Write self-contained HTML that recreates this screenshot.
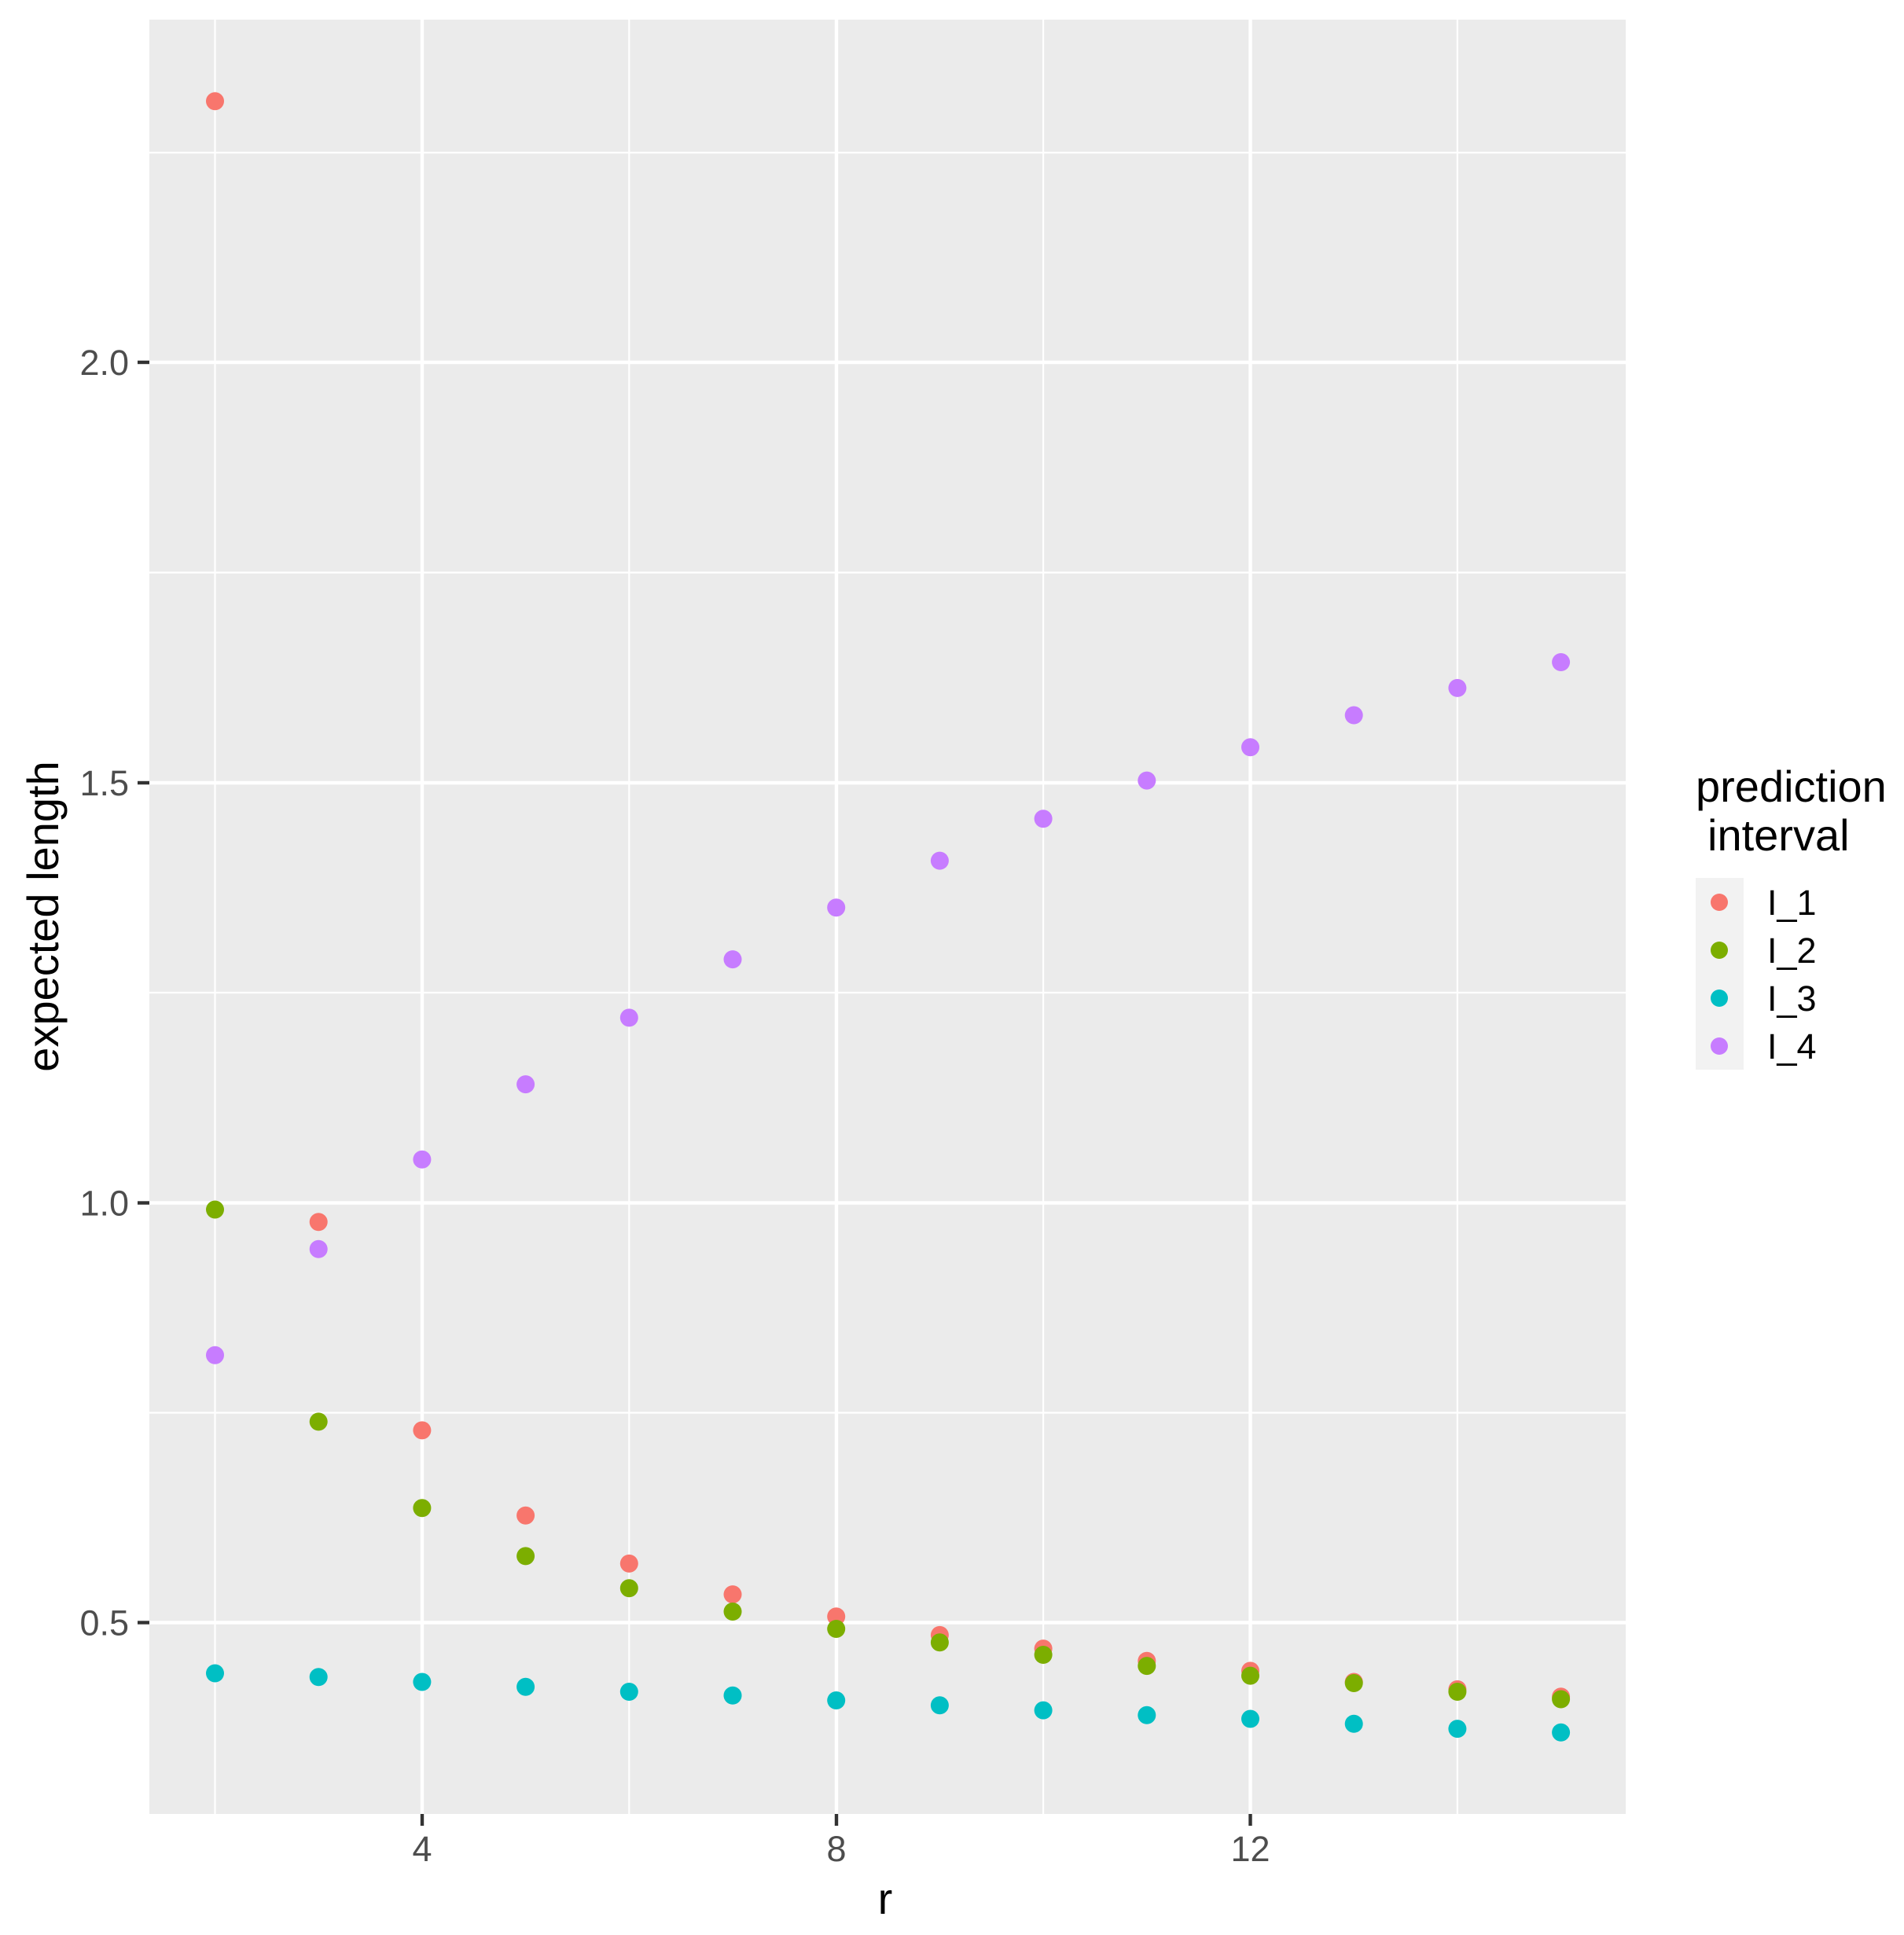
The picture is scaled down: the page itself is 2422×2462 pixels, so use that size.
<!DOCTYPE html>
<html><head><meta charset="utf-8"><style>html,body{margin:0;padding:0;background:#fff}svg{display:block}</style></head>
<body>
<svg width="2422" height="2462" viewBox="0 0 2422 2462" xmlns="http://www.w3.org/2000/svg" font-family="Liberation Sans, Arial, sans-serif">
<rect x="0" y="0" width="2422" height="2462" fill="#fff"/>
<rect x="190" y="25" width="1878" height="2283" fill="#EBEBEB"/>
<g stroke="#fff" stroke-width="2.2">
<line x1="190" x2="2068" y1="1797.5" y2="1797.5"/><line x1="190" x2="2068" y1="1263" y2="1263"/><line x1="190" x2="2068" y1="728.5" y2="728.5"/><line x1="190" x2="2068" y1="194.25" y2="194.25"/>
<line y1="25" y2="2308" x1="273.5" x2="273.5"/><line y1="25" y2="2308" x1="800.3" x2="800.3"/><line y1="25" y2="2308" x1="1327.1" x2="1327.1"/><line y1="25" y2="2308" x1="1853.9" x2="1853.9"/>
</g>
<g stroke="#fff" stroke-width="4.4">
<line x1="190" x2="2068" y1="2064.5" y2="2064.5"/><line x1="190" x2="2068" y1="1530.5" y2="1530.5"/><line x1="190" x2="2068" y1="996" y2="996"/><line x1="190" x2="2068" y1="461" y2="461"/>
<line y1="25" y2="2308" x1="537" x2="537"/><line y1="25" y2="2308" x1="1064" x2="1064"/><line y1="25" y2="2308" x1="1590.5" x2="1590.5"/>
</g>
<g stroke="#333" stroke-width="4.4">
<line x1="175" x2="190" y1="2064.5" y2="2064.5"/><line x1="175" x2="190" y1="1530.5" y2="1530.5"/><line x1="175" x2="190" y1="996" y2="996"/><line x1="175" x2="190" y1="461" y2="461"/>
<line y1="2308" y2="2323" x1="537" x2="537"/><line y1="2308" y2="2323" x1="1064" x2="1064"/><line y1="2308" y2="2323" x1="1590.5" x2="1590.5"/>
</g>
<g fill="#4D4D4D" font-size="45" text-anchor="end">
<text x="164" y="2080.5">0.5</text><text x="164" y="1546.5">1.0</text><text x="164" y="1012">1.5</text><text x="164" y="477">2.0</text>
</g>
<g fill="#4D4D4D" font-size="45" text-anchor="middle">
<text x="537" y="2368">4</text><text x="1064" y="2368">8</text><text x="1590.5" y="2368">12</text>
</g>
<text x="1126" y="2435" font-size="56" text-anchor="middle" fill="#000">r</text>
<text transform="translate(74,1166) rotate(-90)" font-size="56" text-anchor="middle" fill="#000">expected length</text>
<g fill="#F8766D">
<circle cx="273.5" cy="128.7" r="11.5"/><circle cx="405.2" cy="1554.7" r="11.5"/><circle cx="536.9" cy="1819.9" r="11.5"/><circle cx="668.6" cy="1928.2" r="11.5"/><circle cx="800.3" cy="1989.4" r="11.5"/><circle cx="932" cy="2028.6" r="11.5"/><circle cx="1063.7" cy="2056.8" r="11.5"/><circle cx="1195.4" cy="2080.4" r="11.5"/><circle cx="1327.1" cy="2097.6" r="11.5"/><circle cx="1458.8" cy="2113.3" r="11.5"/><circle cx="1590.5" cy="2125.9" r="11.5"/><circle cx="1722.2" cy="2140" r="11.5"/><circle cx="1853.9" cy="2149.4" r="11.5"/><circle cx="1985.6" cy="2158.8" r="11.5"/>
</g>
<g fill="#7CAE00">
<circle cx="273.5" cy="1539" r="11.5"/><circle cx="405.2" cy="1808.9" r="11.5"/><circle cx="536.9" cy="1918.7" r="11.5"/><circle cx="668.6" cy="1979.9" r="11.5"/><circle cx="800.3" cy="2020.7" r="11.5"/><circle cx="932" cy="2050.5" r="11.5"/><circle cx="1063.7" cy="2072.5" r="11.5"/><circle cx="1195.4" cy="2089.8" r="11.5"/><circle cx="1327.1" cy="2105.5" r="11.5"/><circle cx="1458.8" cy="2119.6" r="11.5"/><circle cx="1590.5" cy="2132.1" r="11.5"/><circle cx="1722.2" cy="2141.5" r="11.5"/><circle cx="1853.9" cy="2152.5" r="11.5"/><circle cx="1985.6" cy="2162" r="11.5"/>
</g>
<g fill="#00BFC4">
<circle cx="273.5" cy="2129" r="11.5"/><circle cx="405.2" cy="2133.7" r="11.5"/><circle cx="536.9" cy="2140" r="11.5"/><circle cx="668.6" cy="2146.3" r="11.5"/><circle cx="800.3" cy="2152.5" r="11.5"/><circle cx="932" cy="2157.2" r="11.5"/><circle cx="1063.7" cy="2163.5" r="11.5"/><circle cx="1195.4" cy="2169.8" r="11.5"/><circle cx="1327.1" cy="2176.1" r="11.5"/><circle cx="1458.8" cy="2182.3" r="11.5"/><circle cx="1590.5" cy="2187" r="11.5"/><circle cx="1722.2" cy="2193.3" r="11.5"/><circle cx="1853.9" cy="2199.6" r="11.5"/><circle cx="1985.6" cy="2204.3" r="11.5"/>
</g>
<g fill="#C77CFF">
<circle cx="273.5" cy="1724.2" r="11.5"/><circle cx="405.2" cy="1589.3" r="11.5"/><circle cx="536.9" cy="1475.3" r="11.5"/><circle cx="668.6" cy="1379.6" r="11.5"/><circle cx="800.3" cy="1294.9" r="11.5"/><circle cx="932" cy="1220.6" r="11.5"/><circle cx="1063.7" cy="1154.7" r="11.5"/><circle cx="1195.4" cy="1095.1" r="11.5"/><circle cx="1327.1" cy="1041.7" r="11.5"/><circle cx="1458.8" cy="993.1" r="11.5"/><circle cx="1590.5" cy="950.7" r="11.5"/><circle cx="1722.2" cy="910" r="11.5"/><circle cx="1853.9" cy="875.4" r="11.5"/><circle cx="1985.6" cy="842.5" r="11.5"/>
</g>
<text x="2157" y="1020" font-size="56" fill="#000">prediction</text>
<text x="2172" y="1082" font-size="56" fill="#000">interval</text>
<rect x="2157" y="1117" width="61" height="244" fill="#F2F2F2"/>
<circle cx="2187" cy="1148" r="11" fill="#F8766D"/>
<circle cx="2187" cy="1209" r="11" fill="#7CAE00"/>
<circle cx="2187" cy="1270" r="11" fill="#00BFC4"/>
<circle cx="2187" cy="1331" r="11" fill="#C77CFF"/>
<g font-size="45" fill="#000">
<text x="2248" y="1164">I_1</text><text x="2248" y="1225">I_2</text><text x="2248" y="1286">I_3</text><text x="2248" y="1347">I_4</text>
</g>
</svg>
</body></html>
